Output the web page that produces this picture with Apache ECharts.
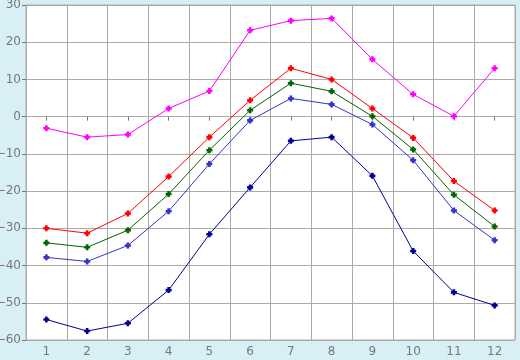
<!DOCTYPE html>
<html><head><meta charset="utf-8">
<script src="https://cdn.jsdelivr.net/npm/echarts@6/dist/echarts.min.js"></script>
<style>html,body{margin:0;padding:0;background:#d9eff6;}#c{width:520px;height:360px;}</style>
</head><body><div id="c"></div>
<script>
const categories = ['1','2','3','4','5','6','7','8','9','10','11','12'];
const magenta = [-3.1, -5.5, -4.8, 2.2, 6.9, 23.2, 25.8, 26.4, 15.4, 6.0, 0.1, 13.0];
const red = [-30.0, -31.3, -26.0, -16.1, -5.5, 4.4, 13.0, 10.0, 2.2, -5.7, -17.3, -25.2];
const green = [-33.9, -35.1, -30.5, -20.8, -9.0, 1.7, 9.0, 6.8, 0.1, -8.8, -21.0, -29.5];
const blue = [-37.8, -38.9, -34.6, -25.4, -12.7, -1.0, 4.9, 3.3, -2.1, -11.7, -25.2, -33.2];
const navy = [-54.5, -57.6, -55.5, -46.6, -31.6, -19.0, -6.5, -5.5, -15.9, -36.1, -47.2, -50.7];
const seriesList = [
  {name:'s1', data: magenta, color:'#ff00ff'},
  {name:'s2', data: red, color:'#ff0000'},
  {name:'s3', data: green, color:'#006400'},
  {name:'s4', data: blue, color:'#3333cc'},
  {name:'s5', data: navy, color:'#000099'}
];
const sym = 'path://M2,0H5V2H7V5H5V7H2V5H0V2H2Z';
const chart = echarts.init(document.getElementById('c'), null, {renderer:'canvas'});
chart.setOption({
  backgroundColor: '#d9eff6',
  animation: false,
  grid: {left: 26, top: 5, right: 5, bottom: 20, containLabel: false, outerBoundsMode: 'none',
    show: true, backgroundColor: '#ffffff', borderColor: '#aaaaaa', borderWidth: 1},
  xAxis: {
    type: 'category', data: categories, boundaryGap: true,
    axisLine: {show: true, lineStyle: {color: '#aaaaaa'}},
    axisTick: {show: true, alignWithLabel: true, length: 4, lineStyle: {color: '#777777'}},
    axisLabel: {color: '#777777', fontSize: 12, fontFamily: 'DejaVu Sans', margin: 6},
    splitLine: {show: true, lineStyle: {color: '#aaaaaa', width: 1}}
  },
  yAxis: {
    type: 'value', min: -60, max: 30, interval: 10,
    axisLine: {show: true, lineStyle: {color: '#aaaaaa'}},
    axisTick: {show: true, length: 4, lineStyle: {color: '#777777'}},
    axisLabel: {color: '#777777', fontSize: 12, fontFamily: 'DejaVu Sans', margin: 5,
      formatter: v => String(v).replace('-', '\u2212')},
    splitLine: {show: true, lineStyle: {color: '#aaaaaa', width: 1}}
  },
  series: seriesList.map(s => ({
    name: s.name, type: 'line', data: s.data,
    symbol: sym, symbolSize: 6, showSymbol: true,
    lineStyle: {color: s.color, width: 1},
    itemStyle: {color: s.color}
  }))
});
</script></body></html>
